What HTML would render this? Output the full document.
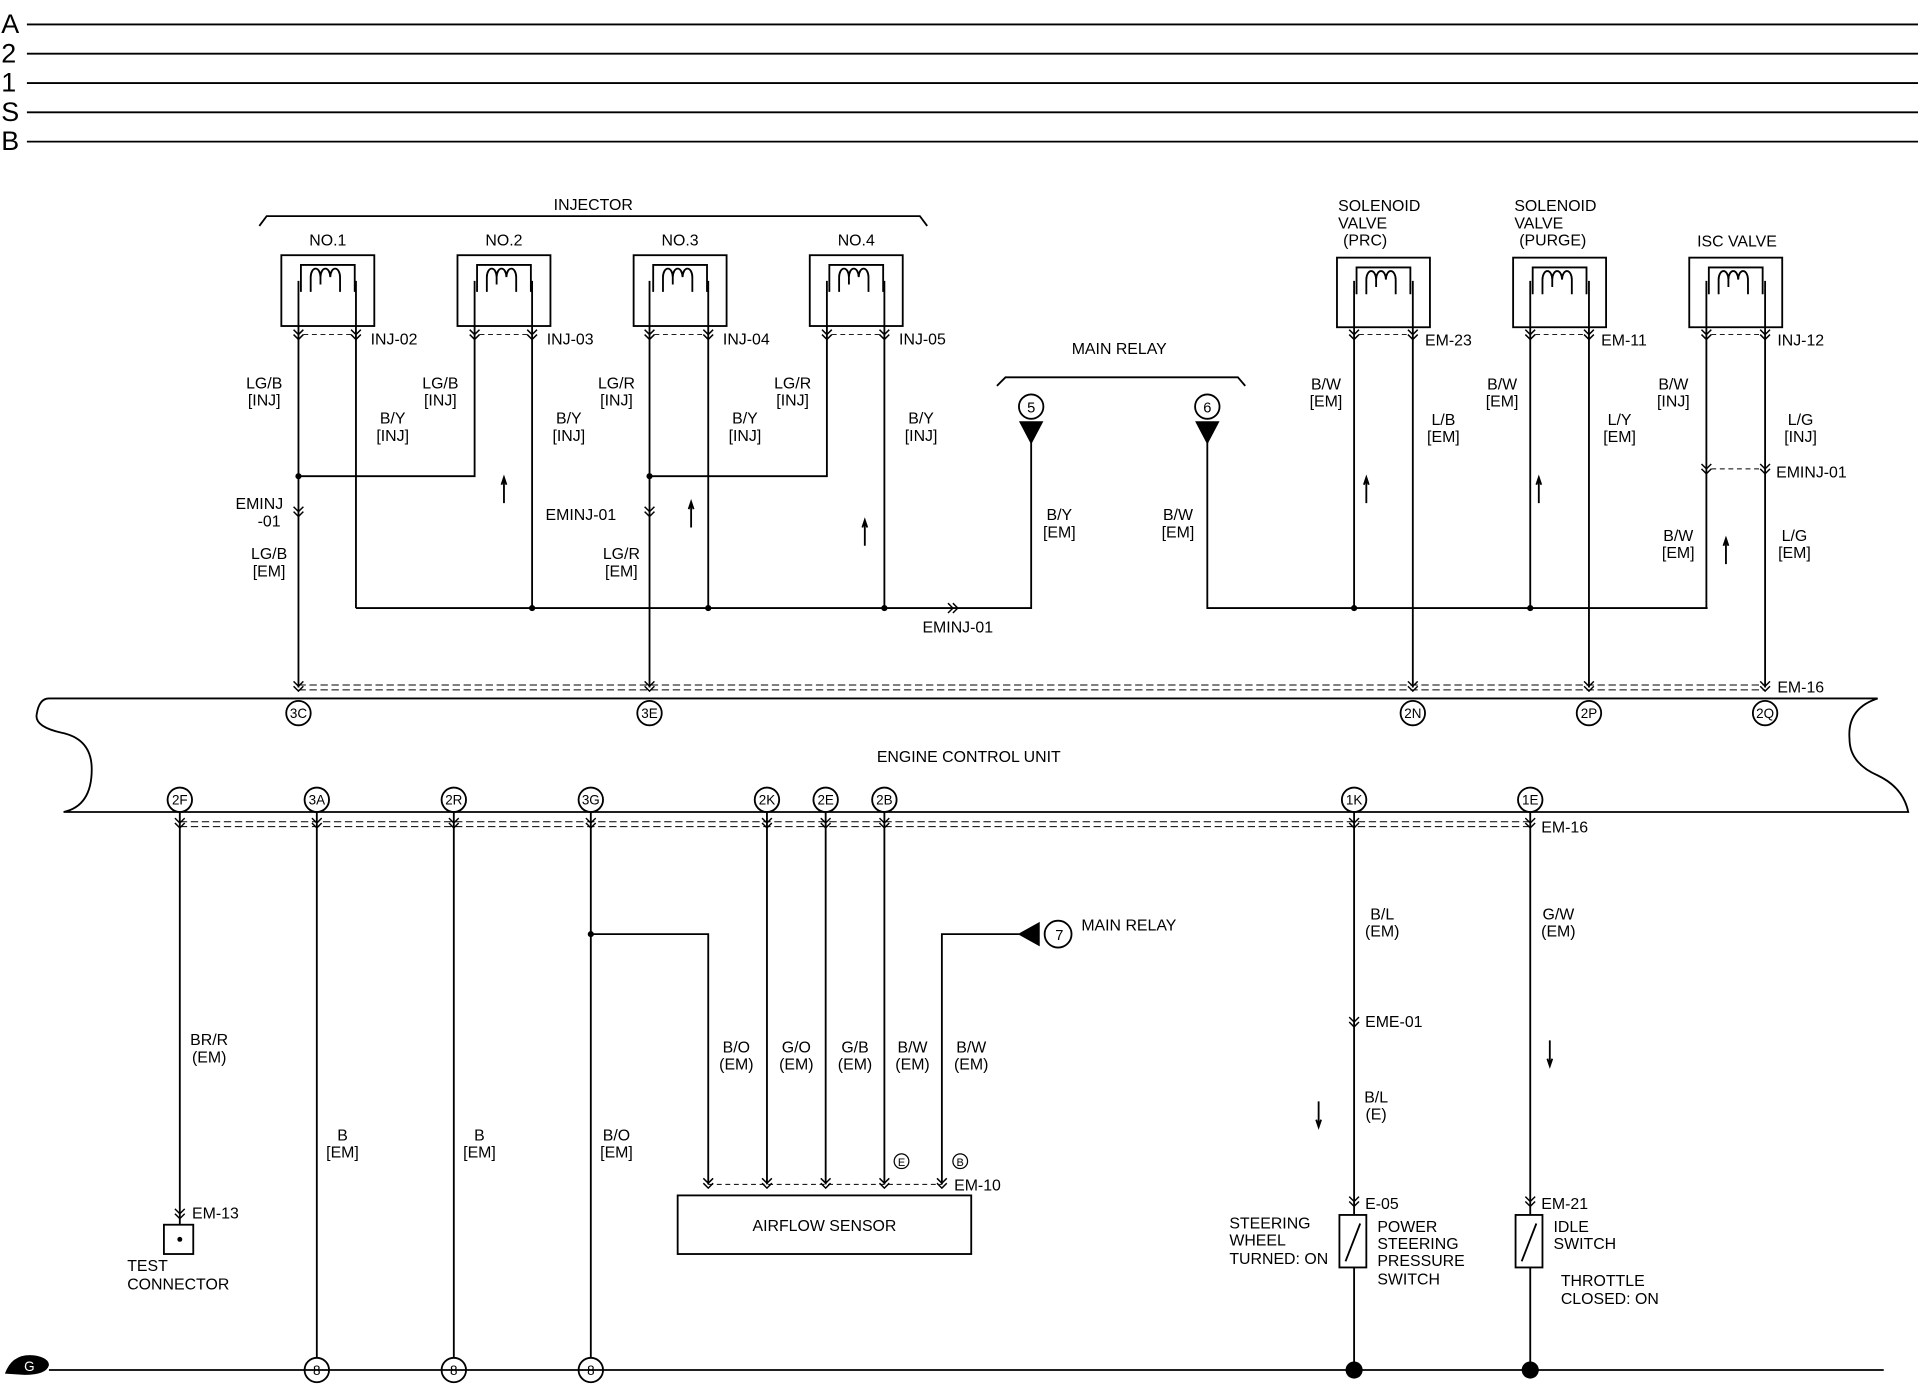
<!DOCTYPE html>
<html><head><meta charset="utf-8"><style>
html,body{margin:0;padding:0;background:#fff}
svg{display:block}
text{font-family:"Liberation Sans",sans-serif;font-size:13px;fill:#000}
</style></head><body>
<svg width="1918" height="1392" viewBox="0 0 1568 1140" preserveAspectRatio="none" xmlns="http://www.w3.org/2000/svg">
<defs>
<g id="ch"><path d="M-4,-5 L0,-1 L4,-5 M-4,-1 L0,3 L4,-1" fill="none" stroke="#000" stroke-width="1.2"/></g>
<g id="coil"><path d="M-22,30 V8 H22 V30 M-14,30 V18 a4,7 0 0 1 8,0 V24 a4,7 0 0 1 0,0 M-6,18 a4,7 0 0 1 8,0 M2,18 a4,7 0 0 1 8,0 V30 M-14,22 V30" fill="none" stroke="#000" stroke-width="1.5"/></g>
<g id="up"><path d="M0,0 V-20 M-2,-15 L0,-21 L2,-15" fill="none" stroke="#000" stroke-width="1.5"/></g>
</defs>
<g stroke="#000" stroke-width="1.5" fill="none">
<path d="M22,20 H1568 M22,44 H1568 M22,68 H1568 M22,92 H1568 M22,116 H1568"/>
<path d="M212,185 L218,177 H752 L758,185"/>
<rect x="230" y="209" width="76" height="58"/><rect x="374" y="209" width="76" height="58"/>
<rect x="518" y="209" width="76" height="58"/><rect x="662" y="209" width="76" height="58"/>
<rect x="1093" y="211" width="76" height="57"/><rect x="1237" y="211" width="76" height="57"/>
<rect x="1381" y="211" width="76" height="57"/>
<path d="M815,316 L822,309 H1012 L1018,316"/>
<path d="M244,230 V563 M291,230 V498 M388,230 V390 H244 M435,230 V498 M531,230 V563 M579,230 V498 M676,230 V390 H531 M723,230 V498 M291,498 H843 V360"/>
<path d="M987,360 V498 H1396 M1107,230 V498 M1155,230 V563 M1251,230 V498 M1299,230 V563 M1395,230 V498 M1443,230 V563"/>
<circle cx="843" cy="333" r="10"/><circle cx="987" cy="333" r="10"/>
<path d="M40,572 H1535 Q1510,580 1512,605 Q1512,625 1535,635 Q1556,645 1560,665 H52 Q75,660 75,630 Q75,605 50,600 Q28,595 30,585 Q32,572 40,572 Z"/>
<path d="M244,561 H1443 M244,565 H1443 M147,673 H1251 M147,677 H1251" stroke-width="0.8" stroke-dasharray="6,3"/>
<path d="M248,274 H287 M392,274 H431 M535,274 H575 M680,274 H719 M1111,274 H1151 M1255,274 H1295 M1399,274 H1439 M1399,384 H1439" stroke-width="0.8" stroke-dasharray="4,3"/>
<path d="M147,665 V1003 M259,665 V1112 M371,665 V1112 M483,665 V1112 M483,765 H579 V970 M627,665 V970 M675,665 V970 M723,665 V970 M770,970 V765 H833"/>
<path d="M1107,665 V995 M1107,1038 V1122 M1251,665 V995 M1251,1038 V1122 M40,1122 H1540"/>
<path d="M579,970 H770" stroke-width="0.8" stroke-dasharray="4,3"/>
<rect x="134" y="1003" width="24" height="24"/>
<rect x="554" y="979" width="240" height="48"/>
<rect x="1095" y="995" width="22" height="43"/><rect x="1239" y="995" width="22" height="43"/>
<path d="M1100,1033 L1112,1002 M1244,1033 L1256,1002"/>
<circle cx="865" cy="765" r="11"/>
<circle cx="259" cy="1122" r="10"/><circle cx="371" cy="1122" r="10"/><circle cx="483" cy="1122" r="10"/>
<circle cx="244" cy="584" r="10"/><circle cx="531" cy="584" r="10"/><circle cx="1155" cy="584" r="10"/><circle cx="1299" cy="584" r="10"/><circle cx="1443" cy="584" r="10"/>
<circle cx="147" cy="655" r="10"/><circle cx="259" cy="655" r="10"/><circle cx="371" cy="655" r="10"/><circle cx="483" cy="655" r="10"/><circle cx="627" cy="655" r="10"/><circle cx="675" cy="655" r="10"/><circle cx="723" cy="655" r="10"/><circle cx="1107" cy="655" r="10"/><circle cx="1251" cy="655" r="10"/>
<circle cx="737" cy="951" r="6" stroke-width="1"/><circle cx="785" cy="951" r="6" stroke-width="1"/>
</g>
<use href="#coil" x="268" y="209"/><use href="#coil" x="412" y="209"/><use href="#coil" x="556" y="209"/><use href="#coil" x="700" y="209"/>
<use href="#coil" x="1131" y="211"/><use href="#coil" x="1275" y="211"/><use href="#coil" x="1419" y="211"/>
<g fill="#000">
<path d="M833,345 H853 L843,364 Z M977,345 H997 L987,364 Z M850,755 V775 L832,765 Z"/>
<circle cx="244" cy="390" r="2.5"/><circle cx="531" cy="390" r="2.5"/><circle cx="435" cy="498" r="2.5"/><circle cx="579" cy="498" r="2.5"/><circle cx="723" cy="498" r="2.5"/>
<circle cx="1107" cy="498" r="2.5"/><circle cx="1251" cy="498" r="2.5"/><circle cx="483" cy="765" r="2.5"/>
<circle cx="1107" cy="1122" r="7"/><circle cx="1251" cy="1122" r="7"/><circle cx="147" cy="1015" r="2"/>
<path d="M4,1125 Q10,1108 28,1110 Q40,1112 40,1118 Q38,1126 20,1126 Z"/>
</g>
<g>
<use href="#ch" x="244" y="275"/><use href="#ch" x="291" y="275"/><use href="#ch" x="388" y="275"/><use href="#ch" x="435" y="275"/>
<use href="#ch" x="531" y="275"/><use href="#ch" x="579" y="275"/><use href="#ch" x="676" y="275"/><use href="#ch" x="723" y="275"/>
<use href="#ch" x="1107" y="275"/><use href="#ch" x="1155" y="275"/><use href="#ch" x="1251" y="275"/><use href="#ch" x="1299" y="275"/><use href="#ch" x="1395" y="275"/><use href="#ch" x="1443" y="275"/>
<use href="#ch" x="1395" y="385"/><use href="#ch" x="1443" y="385"/><use href="#ch" x="244" y="420"/><use href="#ch" x="531" y="420"/>
<use href="#ch" x="244" y="563"/><use href="#ch" x="531" y="563"/><use href="#ch" x="1155" y="563"/><use href="#ch" x="1299" y="563"/><use href="#ch" x="1443" y="563"/>
<use href="#ch" x="147" y="675"/><use href="#ch" x="259" y="675"/><use href="#ch" x="371" y="675"/><use href="#ch" x="483" y="675"/><use href="#ch" x="627" y="675"/><use href="#ch" x="675" y="675"/><use href="#ch" x="723" y="675"/><use href="#ch" x="1107" y="675"/><use href="#ch" x="1251" y="675"/>
<use href="#ch" x="579" y="970"/><use href="#ch" x="627" y="970"/><use href="#ch" x="675" y="970"/><use href="#ch" x="723" y="970"/><use href="#ch" x="770" y="970"/>
<use href="#ch" x="1107" y="985"/><use href="#ch" x="1251" y="985"/><use href="#ch" x="147" y="995"/><use href="#ch" x="1107" y="838"/>
<use href="#ch" transform="translate(780,498) rotate(-90)"/>
</g>
<use href="#up" x="412" y="412"/><use href="#up" x="565" y="432"/><use href="#up" x="707" y="447"/>
<use href="#up" x="1117" y="412"/><use href="#up" x="1258" y="412"/><use href="#up" x="1411" y="462"/>
<use href="#up" transform="translate(1078,902) rotate(180)"/><use href="#up" transform="translate(1267,852) rotate(180)"/>
<g>
<text x="1" y="27" style="font-size:22px">A</text><text x="1" y="51" style="font-size:22px">2</text><text x="1" y="75" style="font-size:22px">1</text><text x="1" y="99" style="font-size:22px">S</text><text x="1" y="123" style="font-size:22px">B</text>
</g>
<g text-anchor="middle">
<text x="485" y="172">INJECTOR</text>
<text x="268" y="201">NO.1</text><text x="412" y="201">NO.2</text><text x="556" y="201">NO.3</text><text x="700" y="201">NO.4</text>
<text x="915" y="290">MAIN RELAY</text>
<text x="1420" y="202">ISC VALVE</text>
<text x="843" y="338" style="font-size:12px">5</text><text x="987" y="338" style="font-size:12px">6</text><text x="866" y="770" style="font-size:12px">7</text>
<text x="216" y="318">LG/B</text><text x="216" y="332">[INJ]</text>
<text x="360" y="318">LG/B</text><text x="360" y="332">[INJ]</text>
<text x="504" y="318">LG/R</text><text x="504" y="332">[INJ]</text>
<text x="648" y="318">LG/R</text><text x="648" y="332">[INJ]</text>
<text x="321" y="347">B/Y</text><text x="321" y="361">[INJ]</text>
<text x="465" y="347">B/Y</text><text x="465" y="361">[INJ]</text>
<text x="609" y="347">B/Y</text><text x="609" y="361">[INJ]</text>
<text x="753" y="347">B/Y</text><text x="753" y="361">[INJ]</text>
<text x="212" y="417">EMINJ</text><text x="220" y="431">-01</text>
<text x="220" y="458">LG/B</text><text x="220" y="472">[EM]</text>
<text x="508" y="458">LG/R</text><text x="508" y="472">[EM]</text>
<text x="866" y="426">B/Y</text><text x="866" y="440">[EM]</text>
<text x="963" y="426">B/W</text><text x="963" y="440">[EM]</text>
<text x="783" y="518">EMINJ-01</text>
<text x="1084" y="319">B/W</text><text x="1084" y="333">[EM]</text>
<text x="1180" y="348">L/B</text><text x="1180" y="362">[EM]</text>
<text x="1228" y="319">B/W</text><text x="1228" y="333">[EM]</text>
<text x="1324" y="348">L/Y</text><text x="1324" y="362">[EM]</text>
<text x="1368" y="319">B/W</text><text x="1368" y="333">[INJ]</text>
<text x="1472" y="348">L/G</text><text x="1472" y="362">[INJ]</text>
<text x="1372" y="443">B/W</text><text x="1372" y="457">[EM]</text>
<text x="1467" y="443">L/G</text><text x="1467" y="457">[EM]</text>
<text x="792" y="624">ENGINE CONTROL UNIT</text>
<g style="font-size:11px">
<text x="244" y="588" style="font-size:11px">3C</text><text x="531" y="588" style="font-size:11px">3E</text><text x="1155" y="588" style="font-size:11px">2N</text><text x="1299" y="588" style="font-size:11px">2P</text><text x="1443" y="588" style="font-size:11px">2Q</text>
<text x="147" y="659" style="font-size:11px">2F</text><text x="259" y="659" style="font-size:11px">3A</text><text x="371" y="659" style="font-size:11px">2R</text><text x="483" y="659" style="font-size:11px">3G</text><text x="627" y="659" style="font-size:11px">2K</text><text x="675" y="659" style="font-size:11px">2E</text><text x="723" y="659" style="font-size:11px">2B</text><text x="1107" y="659" style="font-size:11px">1K</text><text x="1251" y="659" style="font-size:11px">1E</text>
<text x="259" y="1126" style="font-size:11px">8</text><text x="371" y="1126" style="font-size:11px">8</text><text x="483" y="1126" style="font-size:11px">8</text>
<text x="737" y="955" style="font-size:9px">E</text><text x="785" y="955" style="font-size:9px">B</text>
</g>
<text x="171" y="856">BR/R</text><text x="171" y="870">(EM)</text>
<text x="280" y="934">B</text><text x="280" y="948">[EM]</text>
<text x="392" y="934">B</text><text x="392" y="948">[EM]</text>
<text x="504" y="934">B/O</text><text x="504" y="948">[EM]</text>
<text x="602" y="862">B/O</text><text x="602" y="876">(EM)</text>
<text x="651" y="862">G/O</text><text x="651" y="876">(EM)</text>
<text x="699" y="862">G/B</text><text x="699" y="876">(EM)</text>
<text x="746" y="862">B/W</text><text x="746" y="876">(EM)</text>
<text x="794" y="862">B/W</text><text x="794" y="876">(EM)</text>
<text x="674" y="1008">AIRFLOW SENSOR</text>
<text x="1130" y="753">B/L</text><text x="1130" y="767">(EM)</text>
<text x="1125" y="903">B/L</text><text x="1125" y="917">(E)</text>
<text x="1274" y="753">G/W</text><text x="1274" y="767">(EM)</text>
<text x="24" y="1123" style="font-size:11px;fill:#fff">G</text>
</g>
<g>
<text x="303" y="282">INJ-02</text><text x="447" y="282">INJ-03</text><text x="591" y="282">INJ-04</text><text x="735" y="282">INJ-05</text>
<text x="446" y="426">EMINJ-01</text>
<text x="1094" y="173">SOLENOID</text><text x="1094" y="187">VALVE</text><text x="1098" y="201">(PRC)</text>
<text x="1238" y="173">SOLENOID</text><text x="1238" y="187">VALVE</text><text x="1242" y="201">(PURGE)</text>
<text x="1165" y="283">EM-23</text><text x="1309" y="283">EM-11</text><text x="1453" y="283">INJ-12</text>
<text x="1452" y="391">EMINJ-01</text><text x="1453" y="567">EM-16</text>
<text x="1260" y="682">EM-16</text>
<text x="884" y="762">MAIN RELAY</text>
<text x="780" y="975">EM-10</text>
<text x="1116" y="841">EME-01</text>
<text x="1116" y="990">E-05</text><text x="1260" y="990">EM-21</text>
<text x="157" y="998">EM-13</text>
<text x="104" y="1041">TEST</text><text x="104" y="1056">CONNECTOR</text>
<text x="1005" y="1006">STEERING</text><text x="1005" y="1020">WHEEL</text><text x="1005" y="1035">TURNED: ON</text>
<text x="1126" y="1009">POWER</text><text x="1126" y="1023">STEERING</text><text x="1126" y="1037">PRESSURE</text><text x="1126" y="1052">SWITCH</text>
<text x="1270" y="1009">IDLE</text><text x="1270" y="1023">SWITCH</text>
<text x="1276" y="1053">THROTTLE</text><text x="1276" y="1068">CLOSED: ON</text>
</g>
</svg>
</body></html>
